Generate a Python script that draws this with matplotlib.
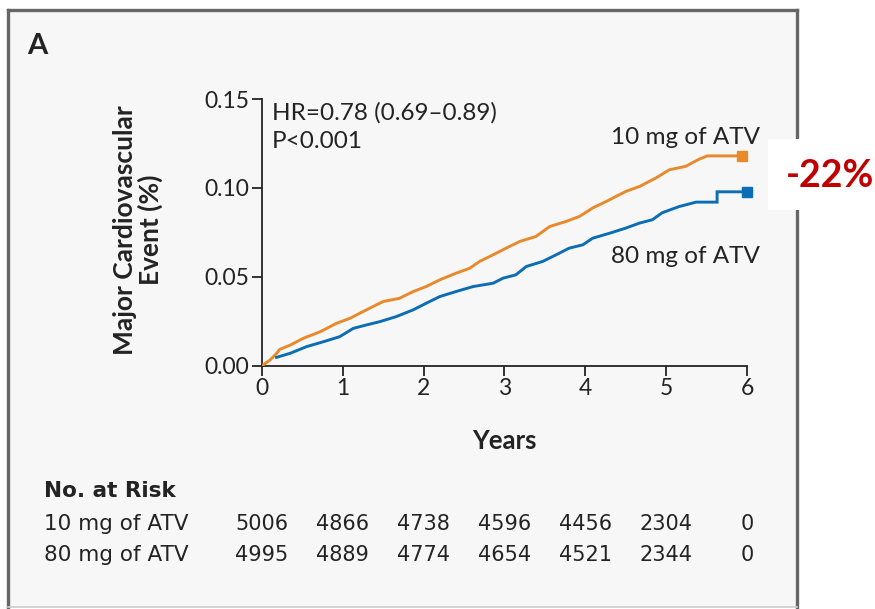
import matplotlib
matplotlib.use("Agg")
import matplotlib.pyplot as plt
from matplotlib.patches import Rectangle
from matplotlib.transforms import blended_transform_factory

# cumulative event curves (years, fraction)
atv10_t = [0, 0.10, 0.18, 0.22, 0.35, 0.51, 0.72, 0.92, 1.09, 1.21, 1.37, 1.50, 1.70, 1.87,
           2.03, 2.20, 2.40, 2.57, 2.69, 2.86, 3.02, 3.19, 3.39, 3.56, 3.76, 3.93, 4.09, 4.26,
           4.50, 4.67, 4.87, 5.04, 5.24, 5.41, 5.51, 5.94]
atv10_v = [0, 0.0032, 0.0069, 0.0092, 0.0116, 0.0154, 0.0191, 0.0238, 0.0267, 0.0295, 0.0332,
           0.0361, 0.0379, 0.0417, 0.0445, 0.0483, 0.0520, 0.0548, 0.0586, 0.0624, 0.0661,
           0.0699, 0.0727, 0.0783, 0.0811, 0.0840, 0.0887, 0.0924, 0.0980, 0.1008, 0.1055,
           0.1102, 0.1121, 0.1162, 0.1180, 0.1180]
atv80_t = [0.18, 0.35, 0.55, 0.76, 0.96, 1.13, 1.29, 1.46, 1.66, 1.87, 2.03, 2.20, 2.40, 2.61,
           2.86, 2.98, 3.14, 3.27, 3.47, 3.64, 3.80, 3.97, 4.09, 4.30, 4.50, 4.67, 4.83, 4.95,
           5.16, 5.37, 5.63, 5.63, 6.0]
atv80_v = [0.0047, 0.0070, 0.0107, 0.0135, 0.0163, 0.0210, 0.0229, 0.0248, 0.0276, 0.0314,
           0.0351, 0.0389, 0.0417, 0.0445, 0.0464, 0.0492, 0.0511, 0.0558, 0.0586, 0.0624,
           0.0661, 0.0680, 0.0717, 0.0745, 0.0774, 0.0802, 0.0821, 0.0860, 0.0895, 0.0920,
           0.0920, 0.0978, 0.0978]

risk_years = [0, 1, 2, 3, 4, 5, 6]
risk_10 = [5006, 4866, 4738, 4596, 4456, 2304, 0]
risk_80 = [4995, 4889, 4774, 4654, 4521, 2344, 0]

ORANGE = "#e8892b"
BLUE = "#0b6db3"
INK = "#232323"
W, H = 875, 609

plt.rcParams["font.family"] = ["Lato", "DejaVu Sans"]

fig = plt.figure(figsize=(W / 100, H / 100), dpi=100, facecolor="white")


def fx(x):
    return x / W


def fy(y):
    return 1 - y / H


# panel background and frame
fig.add_artist(Rectangle((fx(8), fy(607)), fx(797) - fx(8), fy(10) - fy(607),
                         transform=fig.transFigure, facecolor="#f7f7f7",
                         edgecolor="none", zorder=0))
frame = dict(transform=fig.transFigure, color="#666666", lw=2.4, zorder=1)
fig.add_artist(plt.Line2D([fx(8), fx(8)], [fy(607), fy(10)], **frame))
fig.add_artist(plt.Line2D([fx(8), fx(797)], [fy(10), fy(10)], **frame))
fig.add_artist(plt.Line2D([fx(797), fx(797)], [fy(10), fy(607)], **frame))
fig.add_artist(plt.Line2D([fx(8), fx(797)], [fy(607), fy(607)], transform=fig.transFigure,
                          color="#cccccc", lw=1.2, zorder=1))

ax = fig.add_axes([fx(262), fy(365.7), fx(747) - fx(262), fy(99) - fy(365.7)])
ax.set_facecolor("none")
ax.plot(atv10_t, atv10_v, color=ORANGE, lw=2.1, solid_joinstyle="miter", zorder=3)
ax.plot(atv80_t, atv80_v, color=BLUE, lw=2.1, solid_joinstyle="miter", zorder=3)
ax.plot([atv10_t[-1]], [atv10_v[-1]], "s", color=ORANGE, ms=6.5, clip_on=False, zorder=4)
ax.plot([atv80_t[-1]], [atv80_v[-1]], "s", color=BLUE, ms=6.5, clip_on=False, zorder=4)

ax.set_xlim(0, 6)
ax.set_ylim(0, 0.15)
ax.set_xticks(risk_years)
ax.set_yticks([0, 0.05, 0.10, 0.15])
ax.set_yticklabels(["0.00", "0.05", "0.10", "0.15"])
for s in ["top", "right"]:
    ax.spines[s].set_visible(False)
for s in ["left", "bottom"]:
    ax.spines[s].set_color(INK)
    ax.spines[s].set_linewidth(1.3)
ax.tick_params(direction="out", length=7, width=1.3, color=INK, labelcolor=INK,
               labelsize=16.5, pad=2)

ax.text(0.12, 0.1485, "HR=0.78 (0.69\u20130.89)\nP<0.001", fontsize=17.5, color=INK,
        va="top", ha="left", linespacing=1.45)
ax.text(6.16, 0.1285, "10 mg of ATV", fontsize=17.5, color=INK, ha="right", va="center")
ax.text(6.16, 0.0615, "80 mg of ATV", fontsize=17.5, color=INK, ha="right", va="center")

fig.text(fx(27), fy(46), "A", fontsize=21, fontweight="bold", color=INK, va="center")
fig.text(fx(138), fy(230), "Major Cardiovascular\nEvent (%)", rotation=90, fontsize=19,
         fontweight="bold", color=INK, ha="center", va="center", multialignment="center",
         linespacing=1.05)
fig.text(fx(504), fy(441), "Years", fontsize=18.5, fontweight="bold", color=INK,
         ha="center", va="center")

# numbers at risk under the x axis
cond = ["DejaVu Sans"]
fig.text(fx(44), fy(491), "No. at Risk", fontsize=15.5, fontweight="bold", color=INK,
         va="center", family=cond)
fig.text(fx(44), fy(524), "10 mg of ATV", fontsize=15.5, color=INK, va="center", family=cond)
fig.text(fx(44), fy(555), "80 mg of ATV", fontsize=15.5, color=INK, va="center", family=cond)
tr = blended_transform_factory(ax.transData, fig.transFigure)
for yr, a, b in zip(risk_years, risk_10, risk_80):
    ax.text(yr, fy(524), str(a), transform=tr, fontsize=15, color=INK, ha="center",
            va="center", family=cond)
    ax.text(yr, fy(555), str(b), transform=tr, fontsize=15, color=INK, ha="center",
            va="center", family=cond)

# reduction callout on white
fig.add_artist(Rectangle((fx(768), fy(210)), fx(875) - fx(768), fy(139) - fy(210),
                         transform=fig.transFigure, facecolor="white", edgecolor="none",
                         zorder=5))
fig.text(fx(830), fy(176), "-22%", fontsize=27, fontweight="bold", color="#c00000",
         ha="center", va="center", zorder=6)

fig.savefig("out.png", dpi=100)
